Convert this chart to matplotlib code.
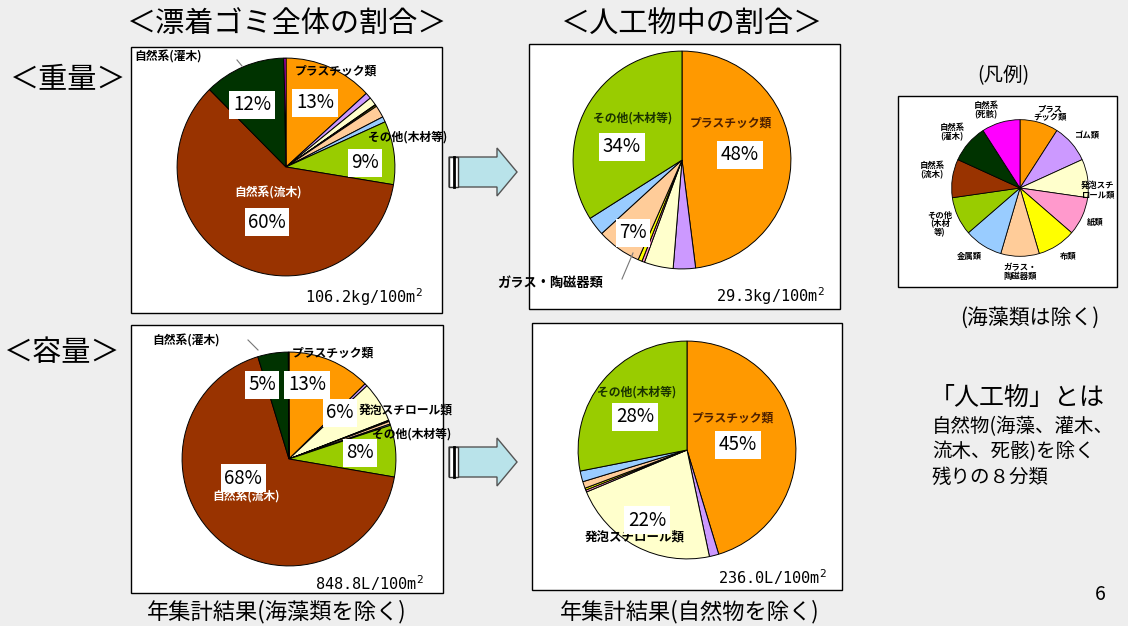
import matplotlib.pyplot as plt
from matplotlib.patches import Rectangle, Polygon

plt.rcParams['font.family'] = ['Noto Sans CJK JP', 'DejaVu Sans']

W, H = 1128, 626

# categories, clockwise from 12 o'clock
categories = ['プラスチック類', 'ゴム類', '発泡スチロール類', '紙類', '布類',
              'ガラス・陶磁器類', '金属類', 'その他(木材等)',
              '自然系(流木)', '自然系(灌木)', '自然系(死骸)']
colors = ['#FF9900', '#CC99FF', '#FFFFCC', '#FF99CC', '#FFFF00',
          '#FFCC99', '#99CCFF', '#99CC00', '#993300', '#003300', '#FF00FF']

# share of all litter (%)
weight_all = [13.2, 0.9, 1.2, 0.1, 0.2, 1.8, 0.8, 9.4, 60.0, 12.1, 0.3]
volume_all = [12.6, 0.4, 6.1, 0.1, 0.1, 0.4, 0.2, 7.8, 67.6, 4.6, 0.1]
# share among man-made items only (%)
weight_art = [48.0, 3.3, 4.3, 0.4, 0.6, 6.6, 2.8, 34.0]
volume_art = [45.3, 1.4, 22.0, 0.3, 0.3, 1.0, 1.6, 28.1]

totals = ['106.2kg/100m$^2$', '848.8L/100m$^2$', '29.3kg/100m$^2$', '236.0L/100m$^2$']

legend_labels = ['プラス\nチック類', 'ゴム類', '発泡スチ\nロール類', '紙類', '布類',
                 'ガラス・\n陶磁器類', '金属類', 'その他\n(木材\n等)',
                 '自然系\n(流木)', '自然系\n(灌木)', '自然系\n(死骸)']


def px_axes(fig, x0, y0, x1, y1, **kw):
    return fig.add_axes([x0 / W, 1 - y1 / H, (x1 - x0) / W, (y1 - y0) / H], **kw)


def draw_pie(fig, vals, cx, cy, r, lw=0.7):
    ax = px_axes(fig, cx - r, cy - r, cx + r, cy + r)
    ax.pie(vals, colors=colors[:len(vals)], startangle=90, counterclock=False,
           wedgeprops=dict(edgecolor='black', linewidth=lw))
    ax.set_xlim(-1.01, 1.01)
    ax.set_ylim(-1.01, 1.01)
    ax.set_axis_off()
    return ax


fig = plt.figure(figsize=(W / 100, H / 100), dpi=100, facecolor='#eeeeee')

base = px_axes(fig, 0, 0, W, H)
base.set_xlim(0, W)
base.set_ylim(H, 0)
base.set_axis_off()
for x0, y0, x1, y1 in [(131, 47, 442, 313), (131, 325, 443, 593),
                       (529, 44, 840, 309), (532, 323, 842, 590),
                       (898, 96, 1117, 287)]:
    base.add_patch(Rectangle((x0, y0), x1 - x0, y1 - y0, facecolor='white',
                             edgecolor='black', linewidth=1.0))

draw_pie(fig, weight_all, 286, 167, 110)
draw_pie(fig, volume_all, 289, 459, 108)
draw_pie(fig, weight_art, 682, 160, 110)
draw_pie(fig, volume_art, 687, 450, 110)
draw_pie(fig, [1] * len(categories), 1020, 188, 69, lw=0.6)

top = px_axes(fig, 0, 0, W, H, zorder=5)
top.set_xlim(0, W)
top.set_ylim(H, 0)
top.set_axis_off()
top.patch.set_alpha(0)

# headings and notes
top.text(287, 24, '＜漂着ゴミ全体の割合＞', fontsize=21, ha='center', va='center')
top.text(692, 24, '＜人工物中の割合＞', fontsize=21, ha='center', va='center')
top.text(68, 80, '＜重量＞', fontsize=21, ha='center', va='center')
top.text(62, 353, '＜容量＞', fontsize=21, ha='center', va='center')
top.text(1003, 76, '(凡例)', fontsize=14, ha='center', va='center')
top.text(1030, 318, '(海藻類は除く)', fontsize=15, ha='center', va='center')
top.text(930, 398, '「人工物」とは', fontsize=18, ha='left', va='center')
top.text(932, 427, '自然物(海藻、灌木、', fontsize=14, ha='left', va='center')
top.text(932, 452, '流木、死骸)を除く', fontsize=14, ha='left', va='center')
top.text(932, 477, '残りの８分類', fontsize=14, ha='left', va='center')
top.text(277, 612, '年集計結果(海藻類を除く)', fontsize=16, ha='center', va='center')
top.text(690, 612, '年集計結果(自然物を除く)', fontsize=16, ha='center', va='center')
top.text(1100, 595, '6', fontsize=14, ha='center', va='center')

# arrows between the two columns
for ay in (172, 462):
    top.add_patch(Polygon([(449, ay - 15), (497, ay - 15), (497, ay - 24),
                           (517, ay), (497, ay + 24), (497, ay + 15),
                           (449, ay + 15)], closed=True,
                          facecolor='#B9E3EA', edgecolor='#555555', linewidth=1.0))
    top.add_patch(Rectangle((449, ay - 15), 9, 30, facecolor='white',
                            edgecolor='#333333', linewidth=1.0))
    top.plot([453.5, 453.5], [ay - 15, ay + 15], color='black', linewidth=2)


def name(x, y, s, color='black', ha='center', size=8.5):
    top.text(x, y, s, fontsize=size, fontweight='bold', color=color,
             ha=ha, va='center')


def pct(x, y, vals, i):
    top.text(x, y, f'{vals[i]:.0f}%', fontsize=13.5, ha='center', va='center',
             bbox=dict(facecolor='white', edgecolor='none', pad=2.5))


def total(x, y, s):
    top.text(x, y, s, fontsize=11, family='DejaVu Sans Mono', ha='center', va='center')


# weight, all litter
name(134, 57, categories[9], ha='left')
top.plot([237, 242], [60, 66], color='#777777', linewidth=0.8)
name(336, 71, categories[0])
name(408, 137, categories[7])
name(268, 193, categories[8], color='white')
pct(252, 105, weight_all, 9)
pct(315, 103, weight_all, 0)
pct(365, 163, weight_all, 7)
pct(267, 222, weight_all, 8)
total(364, 297, totals[0])

# volume, all litter
name(152, 341, categories[9], ha='left')
top.plot([248, 258], [340, 350], color='#777777', linewidth=0.8)
name(333, 353, categories[0])
name(406, 410, categories[2])
name(412, 434, categories[7])
name(246, 497, categories[8], color='white')
pct(262, 385, volume_all, 9)
pct(307, 385, volume_all, 0)
pct(340, 413, volume_all, 2)
pct(360, 453, volume_all, 7)
pct(243, 478, volume_all, 8)
total(369, 583, totals[1])

# weight, man-made only
name(633, 118, categories[7], color='#1a3300')
name(731, 123, categories[0], color='#4d2000')
name(550, 283, 'ガラス・陶磁器類', size=9.5)
top.plot([633, 622], [253, 279], color='#777777', linewidth=0.8)
pct(622, 147, weight_art, 7)
pct(740, 155, weight_art, 0)
pct(633, 233, weight_art, 5)
total(770, 296, totals[2])

# volume, man-made only
name(637, 392, categories[7], color='#1a3300')
name(733, 418, categories[0], color='#4d2000')
name(635, 537, categories[2], size=9)
pct(635, 417, volume_art, 7)
pct(738, 445, volume_art, 0)
pct(647, 520, volume_art, 2)
total(772, 577, totals[3])

# legend labels around the small pie
legend_pos = [(1050, 113), (1088, 136), (1098, 190), (1095, 222), (1068, 256),
              (1020, 272), (969, 256), (940, 224), (932, 170), (952, 132), (986, 110)]
for (lx, ly), s in zip(legend_pos, legend_labels):
    top.text(lx, ly, s, fontsize=6, fontweight='bold', ha='center', va='center',
             linespacing=1.0)

fig.savefig('out.png', dpi=100, facecolor=fig.get_facecolor())
